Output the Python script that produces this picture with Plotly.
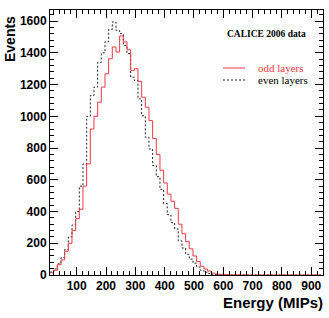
import plotly.graph_objects as go

# Histogram binning (energy in MIPs)
bin_start = 9.0
bin_width = 12.5

odd_layers = [14, 30, 65, 95, 150, 200, 280, 355, 414, 560, 700, 920, 1000, 1089,
              1184, 1268, 1363, 1437, 1405, 1506, 1469, 1420, 1290, 1300, 1220,
              1120, 1057, 973, 860, 760, 660, 580, 510, 465, 420, 320, 260, 210,
              165, 120, 85, 55, 38, 25, 12, 6, 4, 3, 2, 1, 1, 1, 0, 1, 0, 0, 0,
              0, 0, 0, 0, 0, 0, 0, 0, 0, 0, 0, 0, 0, 0, 0, 0, 0]
even_layers = [18, 38, 70, 110, 160, 240, 315, 400, 560, 700, 1000, 1131, 1184,
               1340, 1400, 1470, 1548, 1595, 1542, 1521, 1447, 1395, 1247, 1226,
               1110, 1004, 868, 794, 690, 620, 540, 450, 380, 330, 290, 215, 170,
               130, 100, 75, 50, 30, 18, 10, 5, 3, 2, 1, 1, 0, 0, 0, 0, 0, 0, 0,
               0, 0, 0, 0, 0, 0, 0, 0, 0, 0, 0, 0, 0, 0, 0, 0, 0, 0]

x_range = [9, 940]
y_range = [0, 1670]
x_tick_vals = [100, 200, 300, 400, 500, 600, 700, 800, 900]
y_tick_vals = [0, 200, 400, 600, 800, 1000, 1200, 1400, 1600]

def step_xy(values):
    xs = [bin_start + i * bin_width for i in range(len(values))]
    xs.append(bin_start + len(values) * bin_width)
    ys = list(values) + [values[-1]]
    return xs, ys

RED = "#ee3a43"
fig = go.Figure()
xo, yo = step_xy(odd_layers)
xe, ye = step_xy(even_layers)
fig.add_trace(go.Scatter(x=xe, y=ye, mode="lines", line_shape="hv",
                         line=dict(color="#222222", width=1, dash="2px,2px"),
                         name="even layers", showlegend=False))
fig.add_trace(go.Scatter(x=xo, y=yo, mode="lines", line_shape="hv",
                         line=dict(color=RED, width=1),
                         name="odd layers", showlegend=False))

tickfont = dict(family="Liberation Sans, Arial", size=12, color="black", weight="bold")
axis_common = dict(showline=True, linecolor="black", linewidth=1, mirror="ticks",
                   ticks="inside", ticklen=8, tickcolor="black", tickwidth=1,
                   showgrid=False, zeroline=False, tickfont=tickfont)

fig.update_xaxes(range=x_range, tickvals=x_tick_vals,
                 minor=dict(ticks="inside", ticklen=4, dtick=20, tick0=0, tickcolor="black", showgrid=False),
                 **axis_common)
fig.update_yaxes(range=y_range, tickvals=y_tick_vals,
                 minor=dict(ticks="inside", ticklen=4, dtick=40, tick0=0, tickcolor="black", showgrid=False),
                 **axis_common)

W, H = 329, 318
L, R, T, B = 50, 6, 10, 43
pw, ph = W - L - R, H - T - B

def px(x):
    return (x - L) / pw

def py(y):
    return (H - B - y) / ph

annotations = [
    dict(text="<b>Events</b>", x=px(10), y=py(39), xref="paper", yref="paper",
         textangle=-90, showarrow=False, xanchor="center", yanchor="middle",
         font=dict(family="Liberation Sans, Arial", size=14, color="black")),
    dict(text="<b>Energy (MIPs)</b>", x=px(325), y=py(302), xref="paper", yref="paper",
         showarrow=False, xanchor="right", yanchor="middle",
         font=dict(family="Liberation Sans, Arial", size=15, color="black")),
    dict(text="<b>CALICE 2006 data</b>", x=px(225), y=py(34), xref="paper", yref="paper",
         showarrow=False, xanchor="left", yanchor="middle",
         font=dict(family="Liberation Serif, Times New Roman", size=9.5, color="black")),
    dict(text="odd layers", x=px(256), y=py(68), xref="paper", yref="paper",
         showarrow=False, xanchor="left", yanchor="middle",
         font=dict(family="Liberation Serif, Times New Roman", size=11, color=RED)),
    dict(text="even layers", x=px(256), y=py(80), xref="paper", yref="paper",
         showarrow=False, xanchor="left", yanchor="middle",
         font=dict(family="Liberation Serif, Times New Roman", size=11, color="black")),
]
shapes = [
    dict(type="line", xref="paper", yref="paper", x0=px(223), x1=px(245), y0=py(68), y1=py(68),
         line=dict(color=RED, width=1)),
    dict(type="line", xref="paper", yref="paper", x0=px(223), x1=px(245), y0=py(80), y1=py(80),
         line=dict(color="#222222", width=1, dash="2px,2px")),
]

fig.update_layout(width=W, height=H, margin=dict(l=L, r=R, t=T, b=B, pad=0),
                  paper_bgcolor="white", plot_bgcolor="white",
                  annotations=annotations, shapes=shapes, showlegend=False)

fig.write_html("out.html")
